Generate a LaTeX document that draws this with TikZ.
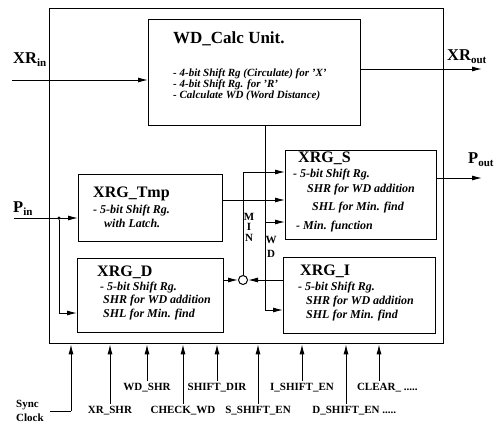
\documentclass[tikz,border=0pt]{standalone}
\usepackage{fontspec}
\setmainfont{Liberation Serif}
\usetikzlibrary{arrows.meta}
\tikzset{
  box/.style={draw, line width=1.1pt, anchor=north west, inner sep=0pt},
  arr/.style={-{Latex[length=10pt,width=5pt]}, line width=1pt},
  wire/.style={line width=1pt},
  ttl/.style={anchor=base west, inner sep=0pt, font=\fontsize{16}{18}\selectfont\bfseries},
  wdbody/.style={anchor=base west, inner sep=0pt, font=\fontsize{11}{12}\selectfont\bfseries\itshape},
  body/.style={anchor=base west, inner sep=0pt, font=\fontsize{12}{13}\selectfont\bfseries\itshape},
  lbl/.style={anchor=base, inner sep=2pt, font=\fontsize{11}{13}\selectfont\bfseries},
  vtxt/.style={inner sep=0pt, align=center, font=\fontsize{11}{11}\selectfont\bfseries},
  io/.style={anchor=base west, inner sep=0pt, font=\fontsize{16.5}{18}\selectfont\bfseries},
}
\newcommand{\iosub}[1]{\raisebox{-3.5pt}{\fontsize{11}{12}\selectfont\bfseries #1}}
\begin{document}
\begin{tikzpicture}[x=1pt, y=-1pt]
\useasboundingbox (0,0) rectangle (501,434);

% outer box
\node[box, line width=1.3pt, minimum width=394pt, minimum height=335pt] (outer) at (49,8) {};

% blocks
\node[box, minimum width=212pt, minimum height=106pt] (wd) at (148,19) {};
\node[box, minimum width=144pt, minimum height=67pt] (tmp) at (78,174) {};
\node[box, minimum width=151pt, minimum height=89pt] (xs) at (285,150) {};
\node[box, minimum width=146pt, minimum height=74pt] (xd) at (77,258) {};
\node[box, minimum width=152pt, minimum height=76pt] (xi) at (283,257) {};

% WD_Calc texts
\node[ttl, font=\fontsize{17}{18}\selectfont\bfseries] (wdt) at (173,43) {WD\_Calc Unit.};
\node[wdbody] (wd1) at (173,76) {- 4-bit Shift Rg (Circulate) for 'X'};
\node[wdbody] (wd2) at (173,87) {- 4-bit Shift Rg. for 'R'};
\node[wdbody] (wd3) at (173,98) {- Calculate WD (Word Distance)};

% XRG_Tmp texts
\node[ttl] (tmpt) at (93,197) {XRG\_Tmp};
\node[body] (tmp1) at (93,213) {- 5-bit Shift Rg.};
\node[body] (tmp2) at (104,227) {with Latch.};

% XRG_S texts
\node[ttl] (xst) at (298,162) {XRG\_S};
\node[body] (xs1) at (293,177) {- 5-bit Shift Rg.};
\node[body] (xs2) at (307,192) {SHR for WD addition};
\node[body] (xs3) at (312,210) {SHL for Min. find};
\node[body] (xs4) at (296,229) {- Min. function};

% XRG_D texts
\node[ttl] (xdt) at (97,276) {XRG\_D};
\node[body] (xd1) at (100,290) {- 5-bit Shift Rg.};
\node[body] (xd2) at (103,303) {SHR for WD addition};
\node[body] (xd3) at (103,317) {SHL for Min. find};

% XRG_I texts
\node[ttl] (xit) at (300,275) {XRG\_I};
\node[body] (xi1) at (298,290) {- 5-bit Shift Rg.};
\node[body] (xi2) at (306,304) {SHR for WD addition};
\node[body] (xi3) at (306,318) {SHL for Min. find};

% IO labels
\node[io] (xrin) at (13,63) {XR\iosub{in}};
\node[io] (xrout) at (447,60) {XR\iosub{out}};
\node[io] (pin) at (13,212) {P\iosub{in}};
\node[io] (pout) at (468,163) {P\iosub{out}};

% XR in / out, P out
\coordinate (xrinS) at (12,80);
\draw[arr] (xrinS) -- (xrinS -| wd.west);
\coordinate (xroE) at (482,69);
\draw[arr] (xroE -| wd.east) -- (xroE);
\coordinate (poE) at (482,178);
\draw[arr] (poE -| xs.east) -- (poE);

% P in
\coordinate (pinS) at (14,218);
\node[circle, fill, inner sep=0pt, minimum size=3.5pt] (pj) at (59,218) {};
\draw[arr] (pinS) -- (pinS -| tmp.west);
\coordinate (pd) at (59,313);
\draw[wire] (pj) -- (pd);
\draw[arr] (pd) -- (pd -| xd.west);

% comparator circle
\node[circle, draw, line width=1pt, fill=white, inner sep=0pt, minimum size=9pt] (cmp) at (243,280) {};
\draw[arr] (cmp -| xd.east) -- (cmp.west);
\draw[arr] (cmp -| xi.west) -- (cmp.east);

% MIN line
\coordinate (minT) at (243,172);
\draw[wire] (cmp.north) -- (minT);
\draw[arr] (minT) -- (minT -| xs.west);

% XRG_Tmp output
\coordinate (tmpO) at (222,200);
\draw[arr] (tmpO) -- (tmpO -| xs.west);

% WD line
\coordinate (wdT) at (265,125);
\coordinate (wdS) at (265,222);
\coordinate (wdB) at (265,310);
\draw[wire] (wdT) -- (wdB);
\draw[arr] (wdB) -- (wdB -| xi.west);
\draw[arr] (wdS) -- (wdS -| xs.west);

% vertical labels
\node[vtxt, font=\fontsize{11}{10.5}\selectfont\bfseries] (minl) at (249,227) {M\\I\\N};
\node[vtxt, font=\fontsize{11}{14}\selectfont\bfseries] (wdl) at (271,247) {W\\D};

% bottom control signals
\node[lbl] (lxr) at (110,413) {XR\_SHR};
\node[lbl] (lwd) at (147,390) {WD\_SHR};
\node[lbl] (lck) at (183,413) {CHECK\_WD};
\node[lbl] (ldir) at (217,390) {SHIFT\_DIR};
\node[lbl] (ls) at (258,413) {S\_SHIFT\_EN};
\node[lbl] (li) at (302,390) {I\_SHIFT\_EN};
\node[lbl] (ld) at (346,413) {D\_SHIFT\_EN\rlap{ .....}};
\node[lbl] (lcl) at (379,390) {CLEAR\_\rlap{ .....}};
\foreach \n in {lxr,lwd,lck,ldir,ls,li,ld,lcl}
  \draw[arr] (\n.north) -- (\n.north |- outer.south);

% sync clock
\node[inner sep=0pt, anchor=north west, align=left, font=\fontsize{11}{14}\selectfont\bfseries] (sync) at (16,400) {Sync\\Clock};
\coordinate (scS) at (50,411);
\coordinate (scC) at (71,411);
\draw[wire] (scS) -- (scC);
\draw[arr] (scC) -- (scC |- outer.south);
\end{tikzpicture}
\end{document}
